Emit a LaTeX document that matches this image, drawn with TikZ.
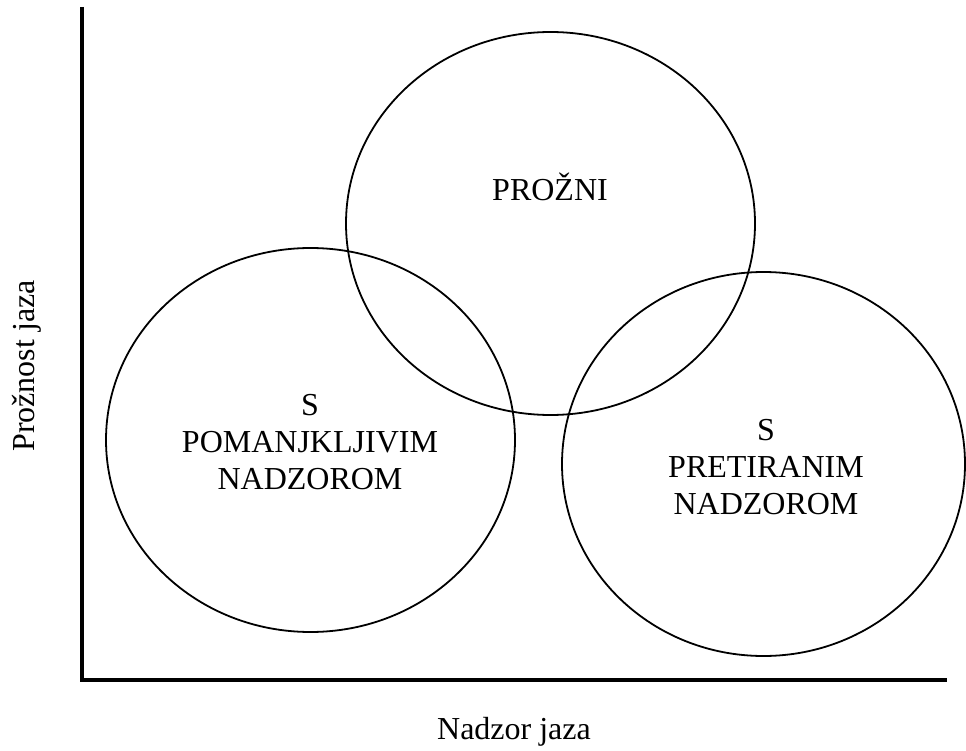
\documentclass[tikz,border=0pt]{standalone}
\usepackage{fontspec}
\setmainfont{Liberation Serif}
\usetikzlibrary{shapes.geometric}
\begin{document}
\begin{tikzpicture}[x=1pt,y=-1pt,
  axisline/.style={line width=3.6pt},
  bubble/.style={draw,ellipse,line width=1.8pt,inner sep=0pt},
  lbl/.style={font=\fontsize{32}{37}\selectfont,align=center,anchor=base,inner sep=0pt}]
\useasboundingbox (0,0) rectangle (966,751);
% axes
\coordinate (ytop) at (82,7);
\coordinate (origin) at (82,680);
\coordinate (xend) at (947,680);
\draw[axisline] (ytop) -- (origin) -- (xend);
% ellipses
\node[bubble,minimum width=409pt,minimum height=383pt] (top) at (550.5,223.5) {};
\node[bubble,minimum width=409pt,minimum height=384pt] (left) at (310.5,440) {};
\node[bubble,minimum width=403pt,minimum height=384pt] (right) at (763.5,464) {};
% labels
\node[lbl] (tprozni) at (550,200.5) {PROŽNI};
\node[lbl] (tleft) at (310,489.5) {S\\POMANJKLJIVIM\\NADZOROM};
\node[lbl] (tright) at (766,514.5) {S\\PRETIRANIM\\NADZOROM};
\node[lbl] (xlab) at (514,739) {Nadzor jaza};
\node[lbl,rotate=90] (ylab) at (34,366) {Prožnost jaza};
\end{tikzpicture}
\end{document}
